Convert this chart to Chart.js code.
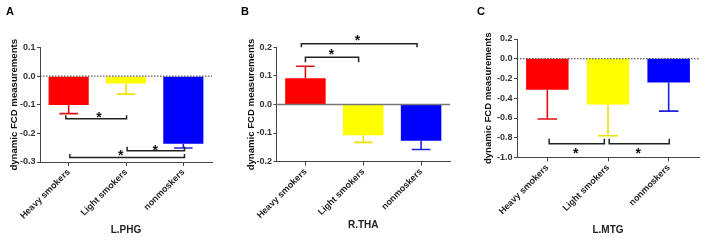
<!DOCTYPE html>
<html><head><meta charset="utf-8">
<script src="https://cdn.jsdelivr.net/npm/chart.js@4/dist/chart.umd.min.js"></script>
<style>
html,body{margin:0;padding:0;background:#fff;width:708px;height:243px;overflow:hidden}
.panel{position:absolute;top:0;width:236px;height:243px}
.letter{position:absolute;top:5px;font:bold 11px "Liberation Sans",Arial,sans-serif;color:#000;line-height:13px}
canvas{display:block}
</style></head><body>
<div class="panel" style="left:0"><canvas id="cA" width="236" height="243"></canvas><div class="letter" style="left:6px">A</div></div>
<div class="panel" style="left:236px"><canvas id="cB" width="236" height="243"></canvas><div class="letter" style="left:5px">B</div></div>
<div class="panel" style="left:472px"><canvas id="cC" width="236" height="243"></canvas><div class="letter" style="left:5px">C</div></div>
<script>
// ---- data ----
const categories = ['Heavy smokers', 'Light smokers', 'nonmoskers'];
const yAxisLabel = 'dynamic FCD measurements';

const phgMeans = [-0.101, -0.026, -0.236];
const phgErrors = [0.030, 0.037, 0.015];
const thaMeans = [0.092, -0.108, -0.127];
const thaErrors = [0.042, 0.025, 0.031];
const mtgMeans = [-0.315, -0.463, -0.240];
const mtgErrors = [0.295, 0.317, 0.290];

// significance brackets: category indices (fractional), bracket level, tip level, star level
const phgBrackets = [
  {from: -0.05, to: 1.01, y: -0.149, tip: -0.137, star: -0.134, starAt: 0.53},
  {from: 1.02, to: 2.02, y: -0.261, tip: -0.247, star: -0.247, starAt: 1.51},
  {from: 0.02, to: 2.02, y: -0.284, tip: -0.272, star: -0.265, starAt: 0.91}
];
const thaBrackets = [
  {from: 0.0, to: 0.92, y: 0.166, tip: 0.148, star: 0.186, starAt: 0.45},
  {from: -0.07, to: 1.93, y: 0.213, tip: 0.201, star: 0.237, starAt: 0.90}
];
const mtgBrackets = [
  {from: 0.03, to: 0.94, y: -0.862, tip: -0.81, star: -0.92, starAt: 0.47},
  {from: 1.02, to: 2.01, y: -0.862, tip: -0.81, star: -0.92, starAt: 1.50}
];

const barColors = ['#ff0000', '#ffff00', '#0000ff'];
const errColors = ['#e01010', '#eee000', '#2020e0'];
const FONT = '"Liberation Sans", Arial, sans-serif';

const overlay = {
  id: 'overlay',
  afterDatasetsDraw(chart, args, opts) {
    const ctx = chart.ctx, ys = chart.scales.y, xs = chart.scales.x, a = chart.chartArea;
    const y0 = ys.getPixelForValue(0);
    ctx.save();
    // zero line
    ctx.beginPath();
    if (opts.zeroDash) { ctx.setLineDash([1.5, 1.5]); ctx.strokeStyle = '#333'; ctx.lineWidth = 1; }
    else { ctx.strokeStyle = '#777'; ctx.lineWidth = 1.5; }
    ctx.moveTo(a.left, y0); ctx.lineTo(a.right, y0); ctx.stroke();
    ctx.setLineDash([]);
    // error bars
    const meta = chart.getDatasetMeta(0);
    meta.data.forEach((bar, i) => {
      const m = opts.means[i], e = opts.errors[i];
      const s = m >= 0 ? 1 : -1;
      const py0 = ys.getPixelForValue(m), py1 = ys.getPixelForValue(m + s * e);
      const cw = bar.width * 0.23;
      ctx.strokeStyle = errColors[i]; ctx.lineWidth = 1.6;
      ctx.beginPath();
      ctx.moveTo(bar.x, py0); ctx.lineTo(bar.x, py1);
      ctx.moveTo(bar.x - cw, py1); ctx.lineTo(bar.x + cw, py1);
      ctx.stroke();
    });
    // brackets
    const p0 = xs.getPixelForValue(0), p1 = xs.getPixelForValue(1), step = p1 - p0;
    const fx = f => p0 + f * step;
    ctx.strokeStyle = '#222'; ctx.lineWidth = 1.5; ctx.fillStyle = '#111';
    ctx.font = 'bold 14px ' + FONT; ctx.textAlign = 'center'; ctx.textBaseline = 'alphabetic';
    opts.brackets.forEach(b => {
      const x1 = fx(b.from), x2 = fx(b.to), by = ys.getPixelForValue(b.y), ty = ys.getPixelForValue(b.tip);
      ctx.beginPath();
      ctx.moveTo(x1, ty); ctx.lineTo(x1, by); ctx.lineTo(x2, by); ctx.lineTo(x2, ty);
      ctx.stroke();
      ctx.fillText('*', fx(b.starAt), ys.getPixelForValue(b.star) + 8);
    });
    ctx.restore();
  }
};

function makeChart(id, means, errors, brackets, c) {
  new Chart(document.getElementById(id), {
    type: 'bar',
    data: {
      labels: categories,
      datasets: [{data: means, backgroundColor: barColors, borderWidth: 0,
        barPercentage: 0.7, categoryPercentage: 1.0}]
    },
    options: {
      responsive: false, animation: false,
      layout: {padding: {top: c.top, right: 236 - c.right, left: 0, bottom: 0}},
      plugins: {legend: {display: false}, tooltip: {enabled: false},
        overlay: {means: means, errors: errors, brackets: brackets, zeroDash: c.zeroDash}},
      scales: {
        x: {
          grid: {display: true, drawOnChartArea: false, offset: false, tickLength: 4, color: '#444', lineWidth: 1},
          border: {display: true, color: '#444', width: 1},
          ticks: {maxRotation: 45, minRotation: 45, autoSkip: false, padding: 1,
            color: '#222', font: {family: FONT, size: 9, weight: 'bold'}},
          title: {display: true, text: c.xTitle, color: '#222',
            font: {family: FONT, size: 10, weight: 'bold'}, padding: {top: 0, bottom: c.xTitlePad}},
          afterFit: s => { s.height = 243 - c.bottom; }
        },
        y: {
          min: c.min, max: c.max,
          grid: {display: true, drawOnChartArea: false, tickLength: 3, color: '#444', lineWidth: 1},
          border: {display: true, color: '#444', width: 1},
          ticks: {stepSize: c.step, padding: 1.5, color: '#333',
            font: {family: FONT, size: 9, weight: 'bold'},
            callback: v => (Math.abs(v) < 1e-9 ? 0 : v).toFixed(1)},
          title: {display: true, text: yAxisLabel, color: '#111',
            font: {family: FONT, size: 9.6, weight: 'bold'}, padding: {top: c.yTitlePad, bottom: 0}},
          afterFit: s => { s.width = c.left; }
        }
      }
    },
    plugins: [overlay]
  });
}

makeChart('cA', phgMeans, phgErrors, phgBrackets,
  {left: 40, right: 212, top: 47.5, bottom: 162, min: -0.3, max: 0.1, step: 0.1,
   xTitle: 'L.PHG', xTitlePad: 7, yTitlePad: 8.2, zeroDash: true});
makeChart('cB', thaMeans, thaErrors, thaBrackets,
  {left: 40.5, right: 214, top: 47.5, bottom: 161.5, min: -0.2, max: 0.2, step: 0.1,
   xTitle: 'R.THA', xTitlePad: 12, yTitlePad: 9.2, zeroDash: false});
makeChart('cC', mtgMeans, mtgErrors, mtgBrackets,
  {left: 45, right: 227, top: 39, bottom: 157.5, min: -1.0, max: 0.2, step: 0.2,
   xTitle: 'L.MTG', xTitlePad: 7, yTitlePad: 10.2, zeroDash: true});
</script>
</body></html>
